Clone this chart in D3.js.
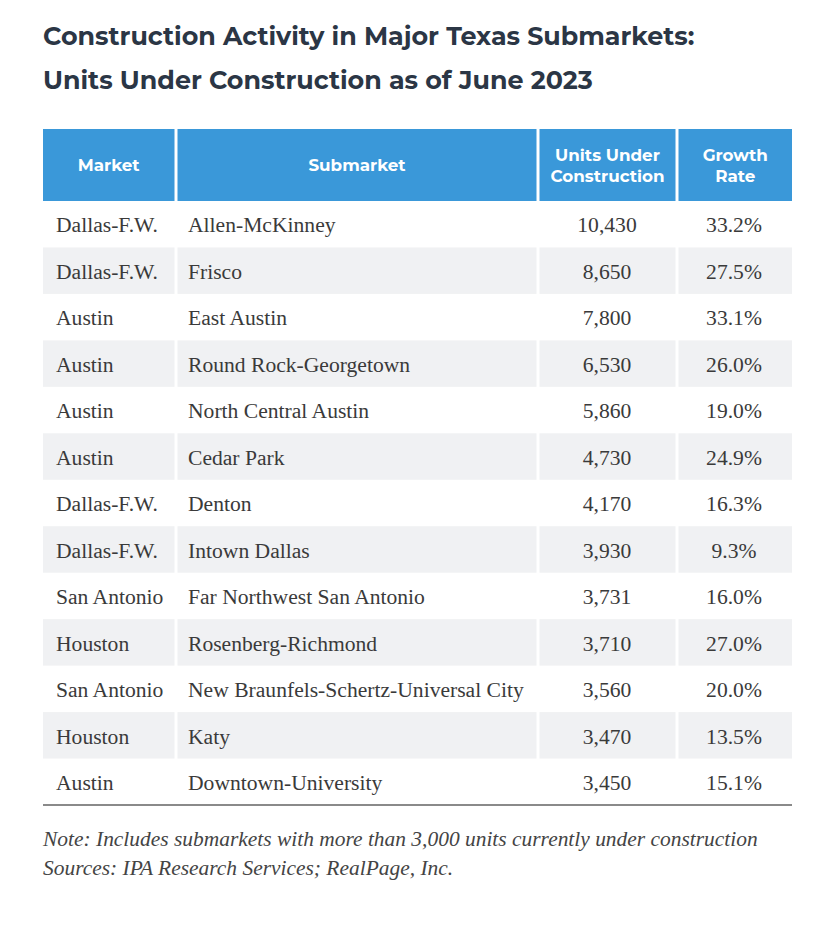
<!DOCTYPE html>
<html>
<head>
<meta charset="utf-8">
<script src="https://cdn.jsdelivr.net/npm/d3@7/dist/d3.min.js"></script>
<style>
  html, body { margin: 0; padding: 0; background: #fff; }
  svg { display: block; }
</style>
</head>
<body>
<svg id="chart" width="830" height="934"></svg>
<script>
// ---- DATA ----
const titleLines = ["Construction Activity in Major Texas Submarkets:", "Units Under Construction as of June 2023"];
const headers = [["Market"], ["Submarket"], ["Units Under", "Construction"], ["Growth", "Rate"]];
const markets = ["Dallas-F.W.", "Dallas-F.W.", "Austin", "Austin", "Austin", "Austin", "Dallas-F.W.", "Dallas-F.W.", "San Antonio", "Houston", "San Antonio", "Houston", "Austin"];
const submarkets = ["Allen-McKinney", "Frisco", "East Austin", "Round Rock-Georgetown", "North Central Austin", "Cedar Park", "Denton", "Intown Dallas", "Far Northwest San Antonio", "Rosenberg-Richmond", "New Braunfels-Schertz-Universal City", "Katy", "Downtown-University"];
const units = [10430, 8650, 7800, 6530, 5860, 4730, 4170, 3930, 3731, 3710, 3560, 3470, 3450];
const growth = [33.2, 27.5, 33.1, 26.0, 19.0, 24.9, 16.3, 9.3, 16.0, 27.0, 20.0, 13.5, 15.1];
const notes = ["Note: Includes submarkets with more than 3,000 units currently under construction", "Sources: IPA Research Services; RealPage, Inc."];

// ---- LAYOUT ----
const svg = d3.select("#chart");
const left = 43, right = 792;
const colEdges = [43, 176, 538, 677, 792];
const gap = 3;
const headerTop = 129, headerBottom = 201, tableBottom = 805;

const y = d3.scaleBand().domain(d3.range(markets.length)).range([headerBottom, tableBottom]);
const fmtInt = d3.format(",");
const fmtPct = d => d3.format(".1f")(d) + "%";

// helper: fit font-size so a reference string has target width
function fitSize(family, weight, style, baseSize, refText, target) {
  const t = svg.append("text").attr("font-family", family).attr("font-weight", weight)
    .attr("font-style", style).attr("font-size", baseSize).text(refText);
  const w = t.node().getComputedTextLength();
  t.remove();
  return baseSize * target / w;
}

const titleFont = "Montserrat, Inter, 'DejaVu Sans', sans-serif";
const headFont = "Montserrat, Inter, 'DejaVu Sans', sans-serif";
const bodyFont = "'Source Serif Pro', 'Liberation Serif', 'DejaVu Serif', serif";

const titleSize = fitSize(titleFont, 700, "normal", 24, titleLines[1], 550);
const headSize = fitSize(headFont, 700, "normal", 15, "Construction", 114);
const bodySize = fitSize(bodyFont, 400, "normal", 19, submarkets[10], 336);
const noteSize = fitSize(bodyFont, 400, "italic", 19, notes[0], 715);

// Title
svg.append("g").selectAll("text").data(titleLines).join("text")
  .attr("x", left)
  .attr("y", (d, i) => 45 + i * 44)
  .attr("font-family", titleFont).attr("font-weight", 700)
  .attr("font-size", titleSize)
  .attr("fill", "#2b3645")
  .text(d => d);

// Header
const head = svg.append("g");
headers.forEach((lines, c) => {
  const x0 = colEdges[c] + (c === 0 ? 0 : gap / 2);
  const x1 = colEdges[c + 1] - (c === headers.length - 1 ? 0 : gap / 2);
  head.append("rect").attr("x", x0).attr("y", headerTop).attr("width", x1 - x0)
    .attr("height", headerBottom - headerTop).attr("fill", "#3a98d9");
  const cy = (headerTop + headerBottom) / 2;
  const lh = 21;
  lines.forEach((ln, k) => {
    head.append("text")
      .attr("x", (x0 + x1) / 2)
      .attr("y", cy + (k - (lines.length - 1) / 2) * lh)
      .attr("dy", "0.36em")
      .attr("text-anchor", "middle")
      .attr("font-family", headFont).attr("font-weight", 700)
      .attr("font-size", headSize).attr("fill", "#ffffff")
      .text(ln);
  });
});

// Rows
const rows = svg.append("g").selectAll("g").data(d3.range(markets.length)).join("g")
  .attr("transform", i => `translate(0,${y(i)})`);

rows.filter(i => i % 2 === 1).each(function() {
  const g = d3.select(this);
  for (let c = 0; c < 4; c++) {
    const x0 = colEdges[c] + (c === 0 ? 0 : gap / 2);
    const x1 = colEdges[c + 1] - (c === 3 ? 0 : gap / 2);
    g.append("rect").attr("x", x0).attr("y", 0).attr("width", x1 - x0)
      .attr("height", y.bandwidth()).attr("fill", "#f0f1f3");
  }
});

const cellText = (sel) => sel.attr("y", y.bandwidth() / 2).attr("dy", "0.38em")
  .attr("font-family", bodyFont).attr("font-size", bodySize).attr("fill", "#3a3a3a");

rows.append("text").call(cellText).attr("x", 56).text(i => markets[i]);
rows.append("text").call(cellText).attr("x", 188).text(i => submarkets[i]);
rows.append("text").call(cellText).attr("x", 607).attr("text-anchor", "middle").text(i => fmtInt(units[i]));
rows.append("text").call(cellText).attr("x", 734).attr("text-anchor", "middle").text(i => fmtPct(growth[i]));

// Bottom rule
svg.append("line").attr("x1", left).attr("x2", right).attr("y1", tableBottom).attr("y2", tableBottom)
  .attr("stroke", "#8a8a8a").attr("stroke-width", 2);

// Notes
svg.append("g").selectAll("text").data(notes).join("text")
  .attr("x", left).attr("y", (d, i) => 838 + i * 29).attr("dy", "0.35em")
  .attr("font-family", bodyFont).attr("font-style", "italic")
  .attr("font-size", noteSize).attr("fill", "#444")
  .text(d => d);
</script>
</body>
</html>
